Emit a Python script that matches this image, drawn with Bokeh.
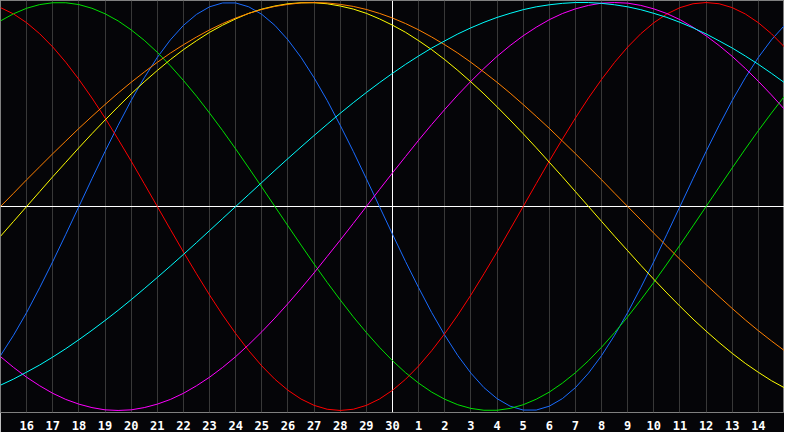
from bokeh.plotting import figure
from bokeh.models import Range1d, FixedTicker, Span
from bokeh.embed import file_html
from bokeh.resources import INLINE

# day-of-month labels along the bottom (15th of last month .. 15th of this month)
days = [15, 16, 17, 18, 19, 20, 21, 22, 23, 24, 25, 26, 27, 28, 29, 30,
        1, 2, 3, 4, 5, 6, 7, 8, 9, 10, 11, 12, 13, 14, 15]

# cycle values read every half day (-1 .. 1), first value on the left edge
physical = [-0.731, -0.631, -0.520, -0.398, -0.270, -0.136, 0.000, 0.136, 0.270, 0.398,
            0.520, 0.631, 0.731, 0.817, 0.888, 0.942, 0.979, 0.998, 0.998, 0.979,
            0.942, 0.888, 0.817, 0.731, 0.631, 0.520, 0.398, 0.270, 0.136, 0.000,
            -0.136, -0.270, -0.398, -0.520, -0.631, -0.731, -0.817, -0.888, -0.942, -0.979,
            -0.998, -0.998, -0.979, -0.942, -0.888, -0.817, -0.731, -0.631, -0.520, -0.398,
            -0.270, -0.136, 0.000, 0.136, 0.270, 0.398, 0.520, 0.631, 0.731, 0.817, 0.888]
emotional = [0.975, 0.944, 0.901, 0.847, 0.782, 0.707, 0.623, 0.532, 0.434, 0.330,
             0.223, 0.112, 0.000, -0.112, -0.223, -0.330, -0.434, -0.532, -0.623, -0.707,
             -0.782, -0.847, -0.901, -0.944, -0.975, -0.994, -1.000, -0.994, -0.975, -0.944,
             -0.901, -0.847, -0.782, -0.707, -0.623, -0.532, -0.434, -0.330, -0.223, -0.112,
             0.000, 0.112, 0.223, 0.330, 0.434, 0.532, 0.623, 0.707, 0.782, 0.847,
             0.901, 0.944, 0.975, 0.994, 1.000, 0.994, 0.975, 0.944, 0.901, 0.847, 0.782]
intellectual = [0.910, 0.945, 0.972, 0.990, 0.999, 0.999, 0.990, 0.972, 0.945, 0.910,
                0.866, 0.815, 0.756, 0.690, 0.618, 0.541, 0.458, 0.372, 0.282, 0.189,
                0.095, 0.000, -0.095, -0.189, -0.282, -0.372, -0.458, -0.541, -0.618, -0.690,
                -0.756, -0.815, -0.866, -0.910, -0.945, -0.972, -0.990, -0.999, -0.999, -0.990,
                -0.972, -0.945, -0.910, -0.866, -0.815, -0.756, -0.690, -0.618, -0.541, -0.458,
                -0.372, -0.282, -0.189, -0.095, 0.000, 0.095, 0.189, 0.282, 0.372, 0.458, 0.541]
intuitive = [-0.736, -0.789, -0.837, -0.879, -0.916, -0.946, -0.969, -0.986, -0.997, -1.000,
             -0.997, -0.986, -0.969, -0.946, -0.916, -0.879, -0.837, -0.789, -0.736, -0.677,
             -0.614, -0.547, -0.476, -0.402, -0.325, -0.245, -0.165, -0.083, 0.000, 0.083,
             0.165, 0.245, 0.325, 0.402, 0.476, 0.547, 0.614, 0.677, 0.736, 0.789,
             0.837, 0.879, 0.916, 0.946, 0.969, 0.986, 0.997, 1.000, 0.997, 0.986,
             0.969, 0.946, 0.916, 0.879, 0.837, 0.789, 0.736, 0.677, 0.614, 0.547, 0.476]
aesthetic = [-0.146, -0.073, 0.000, 0.073, 0.146, 0.217, 0.288, 0.357, 0.424, 0.489,
             0.552, 0.611, 0.667, 0.720, 0.769, 0.813, 0.854, 0.889, 0.920, 0.947,
             0.968, 0.983, 0.994, 0.999, 0.999, 0.994, 0.983, 0.968, 0.947, 0.920,
             0.889, 0.854, 0.813, 0.769, 0.720, 0.667, 0.611, 0.552, 0.489, 0.424,
             0.357, 0.288, 0.217, 0.146, 0.073, 0.000, -0.073, -0.146, -0.217, -0.288,
             -0.357, -0.424, -0.489, -0.552, -0.611, -0.667, -0.720, -0.769, -0.813, -0.854, -0.889]
awareness = [0.000, 0.065, 0.131, 0.195, 0.259, 0.321, 0.383, 0.442, 0.500, 0.556,
             0.609, 0.659, 0.707, 0.752, 0.793, 0.831, 0.866, 0.897, 0.924, 0.947,
             0.966, 0.981, 0.991, 0.998, 1.000, 0.998, 0.991, 0.981, 0.966, 0.947,
             0.924, 0.897, 0.866, 0.831, 0.793, 0.752, 0.707, 0.659, 0.609, 0.556,
             0.500, 0.442, 0.383, 0.321, 0.259, 0.195, 0.131, 0.065, 0.000, -0.065,
             -0.131, -0.195, -0.259, -0.321, -0.383, -0.442, -0.500, -0.556, -0.609, -0.659, -0.707]
spiritual = [-0.876, -0.846, -0.812, -0.777, -0.738, -0.697, -0.653, -0.607, -0.559, -0.509,
             -0.457, -0.403, -0.348, -0.292, -0.235, -0.177, -0.118, -0.059, 0.000, 0.059,
             0.118, 0.177, 0.235, 0.292, 0.348, 0.403, 0.457, 0.509, 0.559, 0.607,
             0.653, 0.697, 0.738, 0.777, 0.812, 0.846, 0.876, 0.903, 0.927, 0.947,
             0.965, 0.979, 0.989, 0.996, 1.000, 1.000, 0.996, 0.989, 0.979, 0.965,
             0.947, 0.927, 0.903, 0.876, 0.846, 0.812, 0.777, 0.738, 0.697, 0.653, 0.607]

day_idx = list(range(len(days)))
x = [i / 2 for i in range(len(physical))]

p = figure(width=784, height=432, output_backend="svg", toolbar_location=None,
           x_range=Range1d(0, day_idx[-1]), y_range=Range1d(-1.01, 1.01),
           min_border_left=0, min_border_right=0, min_border_top=0, min_border_bottom=0,
           background_fill_color="#050508", border_fill_color="#050508")
p.outline_line_color = "#808080"
p.outline_line_width = 1

p.yaxis.visible = False
p.ygrid.grid_line_color = None
p.xaxis.ticker = FixedTicker(ticks=day_idx[1:-1])
p.xaxis.major_label_overrides = {i: str(days[i]) for i in day_idx[1:-1]}
p.xaxis.axis_line_color = None
p.xaxis.major_tick_line_color = None
p.xaxis.minor_tick_line_color = None
p.xaxis.major_label_text_color = "white"
p.xaxis.major_label_text_font = "DejaVu Sans Mono"
p.xaxis.major_label_text_font_style = "bold"
p.xaxis.major_label_text_font_size = "12px"
p.xaxis.major_label_standoff = 2
p.xgrid.grid_line_color = "#383838"
p.xgrid.grid_line_width = 1

p.add_layout(Span(location=0, dimension="width", line_color="white", line_width=1, level="underlay"))
p.add_layout(Span(location=days.index(30), dimension="height", line_color="white", line_width=1,
                  level="underlay"))

p.line(x, physical, line_color="#1a6cff", line_width=1)
p.line(x, emotional, line_color="#ff0000", line_width=1)
p.line(x, intellectual, line_color="#00e000", line_width=1)
p.line(x, intuitive, line_color="#ff00ff", line_width=1)
p.line(x, aesthetic, line_color="#ffff00", line_width=1)
p.line(x, awareness, line_color="#ff8000", line_width=1)
p.line(x, spiritual, line_color="#00ffff", line_width=1)

open("out.html", "w").write(file_html(p, INLINE))
